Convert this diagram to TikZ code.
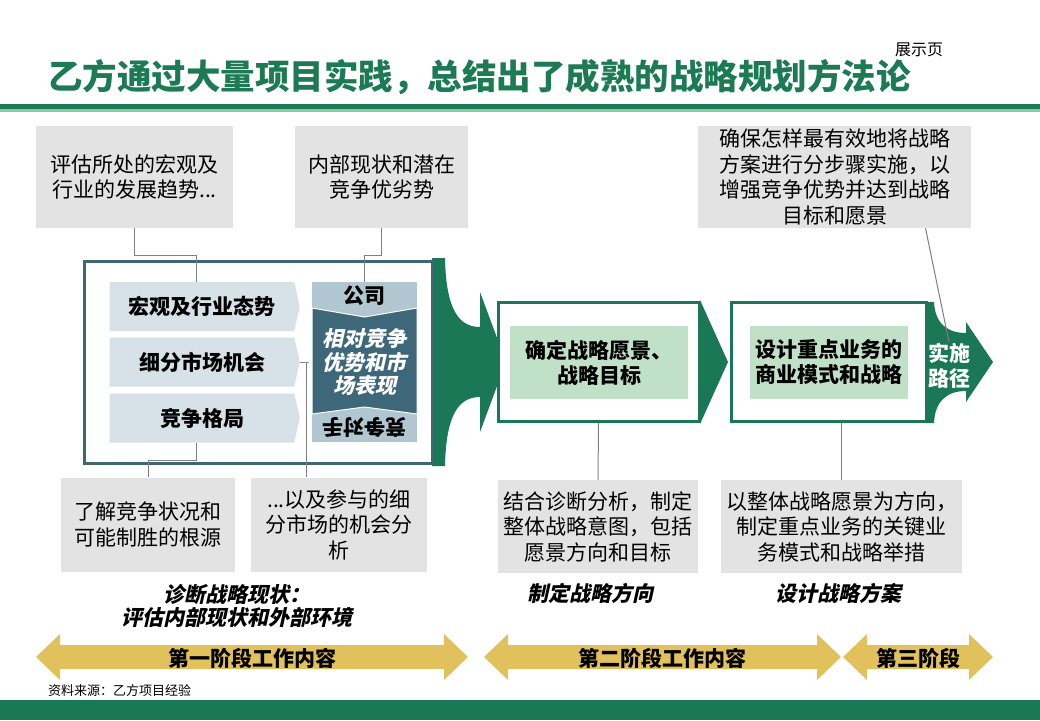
\documentclass[tikz,border=0pt]{standalone}
\usepackage{fontspec}
\setmainfont{Noto Sans CJK SC}
\newfontfamily\slantfont{Noto Sans CJK SC}[FakeSlant=0.22]
\usetikzlibrary{positioning,shapes.symbols}

\definecolor{titlegreen}{RGB}{28,122,84}
\definecolor{arrowgreen}{RGB}{27,120,86}
\definecolor{lightline}{RGB}{140,200,165}
\definecolor{slate}{RGB}{64,102,114}
\definecolor{chevron}{RGB}{214,226,231}
\definecolor{compdark}{RGB}{62,104,122}
\definecolor{complight}{RGB}{176,198,208}
\definecolor{innergreen}{RGB}{193,224,200}
\definecolor{notegray}{RGB}{227,227,227}
\definecolor{gold}{RGB}{225,193,92}
\definecolor{conngray}{RGB}{128,128,128}

\newcommand{\notefs}{\fontsize{21}{25.5}\selectfont}
\newcommand{\labelfs}{\fontsize{21}{25}\selectfont\bfseries}
\newcommand{\italfs}{\slantfont\fontsize{21}{23.5}\selectfont\bfseries}

\begin{document}
\begin{tikzpicture}[x=1pt,y=-1pt,
    note/.style={fill=notegray, inner sep=0, align=center, font=\notefs},
    chev/.style={signal, signal to=east, signal pointer angle=155, fill=chevron,
      minimum width=190, minimum height=49, inner sep=0, font=\labelfs},
    stage/.style={draw=arrowgreen, line width=3, fill=white, minimum width=201, minimum height=119},
    core/.style={fill=innergreen, inner sep=0, minimum width=178, minimum height=73,
      align=center, font=\labelfs},
    conn/.style={draw=conngray, line width=1},
    caption/.style={font=\italfs, align=center, inner sep=0}]

    \fill[white] (0,0) rectangle (1040,720);
    \useasboundingbox (0,0) rectangle (1040,720);

    % title and frame
    \node[anchor=west, text=titlegreen, inner sep=0,
      font=\fontsize{34.5}{40}\selectfont\bfseries] (title) at (48,77)
      {乙方通过大量项目实践，总结出了成熟的战略规划方法论};
    \node[font=\fontsize{16}{18}\selectfont, inner sep=0] (tag) at (919,50) {展示页};
    \fill[titlegreen] (0,104) rectangle (1040,109);
    \fill[lightline] (0,109) rectangle (1040,112);
    \fill[arrowgreen] (0,700) rectangle (1040,720);
    \node[anchor=west, font=\fontsize{13}{15}\selectfont, inner sep=0] (src) at (48,691) {资料来源：乙方项目经验};

    % notes
    \node[note, minimum width=197, minimum height=102] (b1) at (134.5,177) {评估所处的宏观及\\行业的发展趋势...};
    \node[note, minimum width=173, minimum height=102] (b2) at (381.5,177) {内部现状和潜在\\竞争优劣势};
    \node[note, minimum width=273, minimum height=102] (b3) at (834.5,177)
      {确保怎样最有效地将战略\\方案进行分步骤实施，以\\增强竞争优势并达到战略\\目标和愿景};
    \node[note, minimum width=174, minimum height=94] (b4) at (148,524.5) {了解竞争状况和\\可能制胜的根源};
    \node[note, minimum width=176, minimum height=94] (b5) at (339,524.5) {...以及参与的细\\分市场的机会分\\析};
    \node[note, minimum width=200, minimum height=93] (b6) at (598,526.5) {结合诊断分析，制定\\整体战略意图，包括\\愿景方向和目标};
    \node[note, minimum width=241, minimum height=93] (b7) at (841.5,526.5) {以整体战略愿景为方向，\\制定重点业务的关键业\\务模式和战略举措};

    % diagnosis block
    \fill[arrowgreen] (432,258) -- (445,258) .. controls (446,308) and (458,327) .. (480,327)
      -- (480,292) -- (506,362) -- (480,432) -- (480,397)
      .. controls (458,397) and (446,416) .. (445,466) -- (432,466) -- cycle;
    \node[draw=slate, line width=3, fill=white, minimum width=348, minimum height=202] (diag) at (258,362) {};
    \node[chev] (macro) at (202,306.5) {宏观及行业态势};
    \node[chev] (market) at (202,362) {细分市场机会};
    \node[chev] (rival) at (202,418) {竞争格局};

    \node[fill=complight, minimum width=105, minimum height=160, inner sep=0] (comp) at (364.5,362) {};
    \filldraw[fill=compdark, draw=white, line width=1] (312,308) -- (364.5,317) -- (417,308)
      -- (417,414) -- (364.5,407) -- (312,414) -- cycle;
    \node[font=\labelfs, inner sep=0] (own) at (364.5,296) {公司};
    \node[font=\italfs, text=white, align=center, inner sep=0] (perf) at (364.5,362) {相对竞争\\优势和市\\场表现};
    \node[font=\labelfs, rotate=180, inner sep=0] (rivals) at (364.5,428) {竞争对手};

    \draw[conn] (b1.south) -- ++(0,27) -| ([xshift=-6]macro.north);
    \draw[conn] (b2.south) -- ++(0,27) -| (comp.north);
    \draw[conn] ([xshift=-6]rival.south) -- ++(0,18) -| (b4.north);
    \draw[conn] (market.east) -- ++(9,0) -| ([xshift=-33]b5.north);

    % direction and plan
    \fill[arrowgreen] (700,300) -- (728,362) -- (700,424) -- cycle;
    \fill[arrowgreen] (926,302) -- (934,302) .. controls (935,324) and (948,333) .. (966,333)
      -- (966,322) -- (993,362) -- (966,402) -- (966,391)
      .. controls (948,391) and (935,400) .. (934,423) -- (926,423) -- cycle;
    \node[stage] (goal) at (598.5,362) {};
    \node[core] (goaltext) at (599,362.5) {确定战略愿景、\\战略目标};
    \node[stage, minimum width=195] (model) at (828.5,361.5) {};
    \node[core, minimum width=158] (modeltext) at (829,362.5) {设计重点业务的\\商业模式和战略};
    \node[font=\labelfs, text=white, align=center, inner sep=1] (impl) at (949,366) {实施\\路径};

    \draw[conn] (goal.south) -- (b6.north);
    \draw[conn] (model.south -| b7.north) -- (b7.north);
    \draw[conn] ([xshift=91]b3.south) -- (impl.north);

    % captions
    \node[caption] (diaglabel) at (237,606) {诊断战略现状：\\评估内部现状和外部环境};
    \node[caption] (dirlabel) at (590,593) {制定战略方向};
    \node[caption] (planlabel) at (838,593) {设计战略方案};

    % phases
    \foreach \from/\to/\name/\txt in {36/468/phaseone/第一阶段工作内容,
        484/841/phasetwo/第二阶段工作内容, 843/993/phasethree/第三阶段} {
      \fill[gold] (\from,657) -- ++(24,-23) -- ++(0,11) -- (\to-24,645) -- ++(0,-11) -- (\to,657)
        -- ++(-24,23) -- ++(0,-11) -- (\from+24,669) -- ++(0,11) -- cycle;
      \node[font=\labelfs, inner sep=0] (\name) at ({(\from+\to)/2},658) {\txt};
    }
\end{tikzpicture}
\end{document}
